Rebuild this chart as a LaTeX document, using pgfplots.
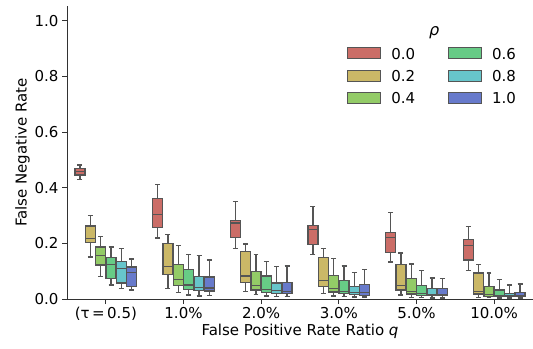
\documentclass[border=0pt]{standalone}
\usepackage{fontspec}
\setmainfont{DejaVu Sans}
\usepackage{pgfplots}
\usepackage{pgfplotstable}
\pgfplotsset{compat=1.18}
\usepgfplotslibrary{statistics}
\definecolor{c0}{RGB}{203,109,103}
\definecolor{c1}{RGB}{203,184,103}
\definecolor{c2}{RGB}{147,203,103}
\definecolor{c3}{RGB}{103,203,134}
\definecolor{c4}{RGB}{103,197,203}
\definecolor{c5}{RGB}{103,122,203}
\definecolor{edge}{RGB}{85,85,85}
\definecolor{spine}{RGB}{50,50,50}

% one table per rho value; rows = categories 0..5
\pgfplotstableread{
lw lq med uq uw
0.430 0.446 0.458 0.468 0.482
0.219 0.258 0.304 0.360 0.412
0.182 0.220 0.273 0.283 0.351
0.160 0.196 0.249 0.263 0.332
0.133 0.168 0.220 0.239 0.311
0.102 0.140 0.192 0.213 0.261
}\hA
\pgfplotstableread{
lw lq med uq uw
0.151 0.204 0.217 0.262 0.300
0.038 0.088 0.118 0.199 0.232
0.027 0.059 0.083 0.170 0.198
0.020 0.046 0.067 0.149 0.182
0.014 0.032 0.049 0.125 0.165
0.006 0.018 0.027 0.093 0.125
}\hB
\pgfplotstableread{
lw lq med uq uw
0.080 0.122 0.157 0.187 0.225
0.023 0.049 0.070 0.125 0.192
0.015 0.032 0.049 0.098 0.161
0.011 0.025 0.039 0.085 0.145
0.006 0.018 0.027 0.073 0.126
0.005 0.010 0.015 0.044 0.093
}\hC
\pgfplotstableread{
lw lq med uq uw
0.050 0.073 0.123 0.150 0.187
0.014 0.035 0.050 0.107 0.161
0.011 0.023 0.035 0.083 0.135
0.008 0.019 0.027 0.067 0.119
0.005 0.013 0.020 0.048 0.102
0.004 0.008 0.013 0.032 0.070
}\hD
\pgfplotstableread{
lw lq med uq uw
0.037 0.057 0.110 0.135 0.181
0.011 0.030 0.042 0.080 0.156
0.008 0.019 0.030 0.057 0.117
0.007 0.015 0.023 0.046 0.096
0.004 0.012 0.017 0.037 0.075
0.004 0.008 0.013 0.020 0.050
}\hE
\pgfplotstableread{
lw lq med uq uw
0.032 0.046 0.094 0.115 0.144
0.013 0.029 0.040 0.079 0.140
0.008 0.019 0.027 0.060 0.119
0.007 0.013 0.023 0.051 0.107
0.004 0.012 0.017 0.039 0.074
0.004 0.008 0.012 0.024 0.054
}\hF

\newcommand{\hueboxes}[3]{% table, offset, colour
  \pgfplotsinvokeforeach{0,...,5}{
    \pgfplotstablegetelem{##1}{lw}\of#1\let\vlw\pgfplotsretval
    \pgfplotstablegetelem{##1}{lq}\of#1\let\vlq\pgfplotsretval
    \pgfplotstablegetelem{##1}{med}\of#1\let\vmed\pgfplotsretval
    \pgfplotstablegetelem{##1}{uq}\of#1\let\vuq\pgfplotsretval
    \pgfplotstablegetelem{##1}{uw}\of#1\let\vuw\pgfplotsretval
    \pgfmathsetmacro\vpos{##1+#2}%
    \edef\doplot{\noexpand\addplot[forget plot, draw=edge, line width=1.3pt, fill=#3,
      boxplot/draw direction=y,
      boxplot prepared={draw position=\vpos,
        lower whisker=\vlw, lower quartile=\vlq, median=\vmed,
        upper quartile=\vuq, upper whisker=\vuw},
      boxplot/box extend=0.128, boxplot/whisker extend=0.064]
      coordinates {};}%
    \doplot
  }
}

\begin{document}
\begin{tikzpicture}[font=\fontsize{15}{18}\selectfont]
\begin{axis}[
  scale only axis, width=466pt, height=293pt,
  xmin=-0.5, xmax=5.5, ymin=0, ymax=1.053,
  axis x line*=bottom, axis y line*=left,
  axis line style={spine, line width=0.9pt, -},
  xtick={0,1,2,3,4,5},
  xticklabels={(τ\,=\,0.5),1.0\%,2.0\%,3.0\%,5.0\%,10.0\%},
  ytick={0,0.2,0.4,0.6,0.8,1.0},
  yticklabel style={/pgf/number format/.cd, fixed, fixed zerofill, precision=1, assume math mode=true},
  tick align=outside, major tick length=5pt,
  tick style={spine, line width=0.9pt},
  xlabel={False Positive Rate Ratio {\itshape q}},
  ylabel={False Negative Rate},
  xlabel style={yshift=4pt},
  ylabel style={yshift=-2pt},
  legend columns=3, transpose legend,
  legend image code/.code={\draw[#1] (0pt,-5.5pt) rectangle (33pt,5.5pt);},
  legend style={draw=none, fill=none, inner sep=0pt,
    at={(rel axis cs:0.601,0.868)}, anchor=north west,
    row sep=5pt,
    /tikz/every odd column/.append style={column sep=7pt},
    /tikz/every even column/.append style={column sep=30pt},
    nodes={inner sep=3pt, text depth=0pt}},
  legend cell align=left,
]
\hueboxes{\hA}{-0.3333}{c0}
\hueboxes{\hB}{-0.2}{c1}
\hueboxes{\hC}{-0.0667}{c2}
\hueboxes{\hD}{0.0667}{c3}
\hueboxes{\hE}{0.2}{c4}
\hueboxes{\hF}{0.3333}{c5}
\addlegendimage{fill=c0, draw=edge, line width=1pt}
\addlegendimage{fill=c1, draw=edge, line width=1pt}
\addlegendimage{fill=c2, draw=edge, line width=1pt}
\addlegendimage{fill=c3, draw=edge, line width=1pt}
\addlegendimage{fill=c4, draw=edge, line width=1pt}
\addlegendimage{fill=c5, draw=edge, line width=1pt}
\legend{0.0,0.2,0.4,0.6,0.8,1.0}
\node[font=\fontsize{16}{18}\selectfont\itshape] at (rel axis cs:0.788,0.91) {ρ};
\coordinate (ll) at (rel axis cs:0,0);
\coordinate (ur) at (rel axis cs:1,1);
\end{axis}
\pgfresetboundingbox
\path[use as bounding box] ([shift={(-67pt,-49pt)}]ll) rectangle ([shift={(0pt,6pt)}]ur);
\end{tikzpicture}
\end{document}
